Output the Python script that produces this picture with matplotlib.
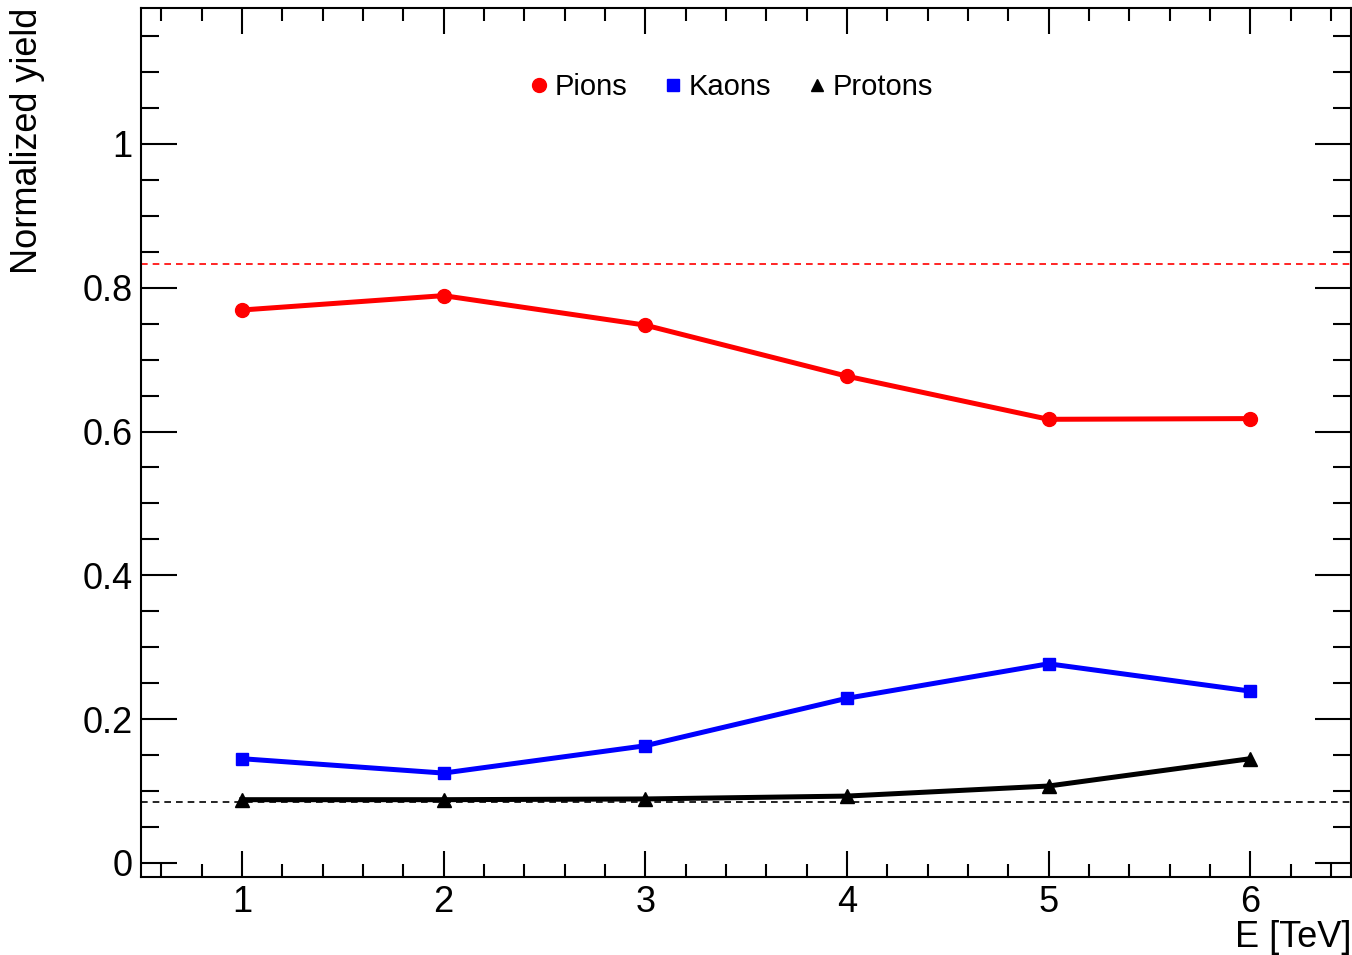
import numpy as np
import matplotlib.pyplot as plt
from matplotlib.lines import Line2D
from matplotlib.ticker import MultipleLocator

plt.rcParams['font.family'] = ['Liberation Sans', 'DejaVu Sans']

# energies and yields
energy = [1, 2, 3, 4, 5, 6]
pions = [0.769, 0.789, 0.748, 0.677, 0.617, 0.618]
kaons = [0.145, 0.125, 0.163, 0.229, 0.277, 0.239]
protons = [0.088, 0.088, 0.089, 0.093, 0.107, 0.145]
pion_ref = 0.833
proton_ref = 0.085

fig = plt.figure(figsize=(13.52, 9.55), dpi=100)
ax = fig.add_axes([0.1043, 0.0817, 0.895, 0.9099])

ax.axhline(pion_ref, color='red', ls=(0, (4, 3)), lw=1.2)
ax.axhline(proton_ref, color='black', ls=(0, (4, 3)), lw=1.2)

ax.plot(energy, pions, '-o', color='red', lw=3.6, ms=10)
ax.plot(energy, kaons, '-s', color='blue', lw=3.6, ms=9)
ax.plot(energy, protons, '-^', color='black', lw=3.6, ms=10)

ax.set_xlim(0.5, 6.5)
ax.set_ylim(-0.0195, 1.189)

ax.xaxis.set_major_locator(MultipleLocator(1))
ax.xaxis.set_minor_locator(MultipleLocator(0.2))
ax.yaxis.set_major_locator(MultipleLocator(0.2))
ax.yaxis.set_minor_locator(MultipleLocator(0.05))
ax.set_yticks([0, 0.2, 0.4, 0.6, 0.8, 1.0])
ax.set_yticklabels(['0', '0.2', '0.4', '0.6', '0.8', '1'])

ax.tick_params(which='both', direction='in', top=True, right=True, width=1.5,
               labelsize=26)
ax.tick_params(axis='x', which='major', length=19, pad=6)
ax.tick_params(axis='x', which='minor', length=9.5)
ax.tick_params(axis='y', which='major', length=26, pad=6)
ax.tick_params(axis='y', which='minor', length=13)
for s in ax.spines.values():
    s.set_linewidth(1.5)

ax.set_xlabel('E [TeV]', fontsize=26, loc='right', labelpad=0)
ax.set_ylabel('Normalized yield', fontsize=26, loc='top', labelpad=27)

handles = [
    Line2D([], [], marker='o', color='red', ls='none', ms=10),
    Line2D([], [], marker='s', color='blue', ls='none', ms=9),
    Line2D([], [], marker='^', color='black', ls='none', ms=9),
]
ax.legend(handles, ['Pions', 'Kaons', 'Protons'], ncol=3, frameon=False,
          fontsize=21, loc='upper center', bbox_to_anchor=(0.487, 0.955),
          handletextpad=0.15, columnspacing=1.15, handlelength=0.8)

fig.savefig('out.png', dpi=100)
